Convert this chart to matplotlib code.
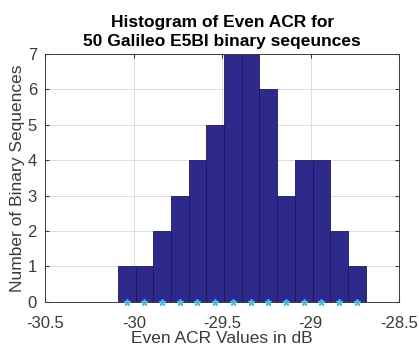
import numpy as np
import matplotlib.pyplot as plt

plt.rcParams['font.family'] = ['Liberation Sans', 'DejaVu Sans']

# bin centres (dB) and counts
bin_centers = [-30.04, -29.94, -29.84, -29.74, -29.64, -29.54, -29.44,
               -29.34, -29.24, -29.14, -29.04, -28.94, -28.84, -28.74]
counts = [1, 1, 2, 3, 4, 5, 7, 7, 6, 3, 4, 4, 2, 1]
bin_width = 0.1

x_ticks = [-30.5, -30, -29.5, -29, -28.5]
x_ticklabels = ['-30.5', '-30', '-29.5', '-29', '-28.5']
y_ticks = [0, 1, 2, 3, 4, 5, 6, 7]

fig = plt.figure(figsize=(4.19, 3.49), dpi=100)
ax = fig.add_axes([0.108, 0.135, 0.845, 0.71])

ax.bar(bin_centers, counts, width=bin_width, color='#2d2a8c',
       edgecolor='#1c1a5a', linewidth=0.6, zorder=2)
# asterisks at the bin centres, like MATLAB hist output
ax.plot(bin_centers, np.zeros(len(bin_centers)), '*', color='#4db8e8',
        markersize=4.5, clip_on=False, zorder=3)

ax.set_xlim(-30.5, -28.5)
ax.set_ylim(0, 7)
ax.set_xticks(x_ticks)
ax.set_xticklabels(x_ticklabels)
ax.set_yticks(y_ticks)
ax.grid(True, color='#dcdcdc', linewidth=0.7, zorder=0)
ax.set_axisbelow(True)

ax.tick_params(direction='in', top=True, right=True, length=3,
               colors='#3a3a3a', labelsize=12)
ax.tick_params(axis='x', pad=10)
ax.tick_params(axis='y', pad=6)
for s in ax.spines.values():
    s.set_color('#3a3a3a')
    s.set_linewidth(0.7)

ax.set_xlabel('Even ACR Values in dB', fontsize=12.5, color='#3a3a3a', labelpad=0)
ax.set_ylabel('Number of Binary Sequences', fontsize=12.5, color='#3a3a3a', labelpad=2)
ax.set_title('Histogram of Even ACR for\n50 Galileo E5BI binary seqeunces',
             fontsize=12.5, fontweight='bold', pad=6, linespacing=1.3)

fig.savefig('out.png', dpi=100)
